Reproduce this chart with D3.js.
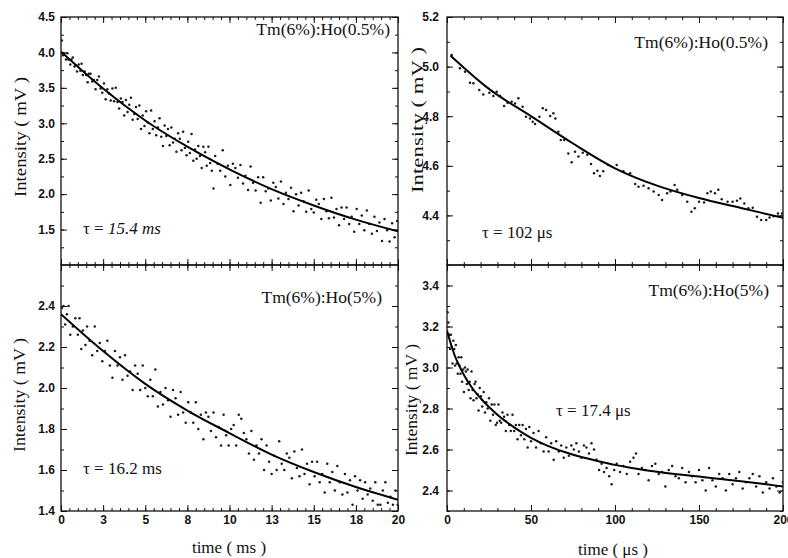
<!DOCTYPE html>
<html>
<head>
<meta charset="utf-8">
<script src="https://cdn.jsdelivr.net/npm/d3@7"></script>
<style>
  body { margin: 0; background: #fff; }
  svg { display: block; }
  .tick text { font-family: "Liberation Sans", Arial, sans-serif; font-weight: bold; font-size: 12px; fill: #111; }
  .domain { display: none; }
  .tick line { stroke: #111; stroke-width: 1; }
  .lbl { font-family: "Liberation Serif", "Times New Roman", serif; fill: #111; }
</style>
</head>
<body>
<div id="chart"></div>
<script>
// time axes
const msTicks = [0, 2.5, 5, 7.5, 10, 12.5, 15, 17.5, 20];
const msTickLabels = ["0", "3", "5", "8", "10", "13", "15", "18", "20"];
const usTicks = [0, 50, 100, 150, 200];
const usTickLabels = ["0", "50", "100", "150", "200"];

// intensity ticks per panel
const tlTicks = [1.5, 2.0, 2.5, 3.0, 3.5, 4.0, 4.5];
const tlTickLabels = ["1.5", "2.0", "2.5", "3.0", "3.5", "4.0", "4.5"];
const trTicks = [4.4, 4.6, 4.8, 5.0, 5.2];
const trTickLabels = ["4.4", "4.6", "4.8", "5.0", "5.2"];
const blTicks = [1.4, 1.6, 1.8, 2.0, 2.2, 2.4];
const blTickLabels = ["1.4", "1.6", "1.8", "2.0", "2.2", "2.4"];
const brTicks = [2.4, 2.6, 2.8, 3.0, 3.2, 3.4];
const brTickLabels = ["2.4", "2.6", "2.8", "3.0", "3.2", "3.4"];

// Tm(6%):Ho(0.5%), time in ms
const tlData = [[0.05,4.17],[0.12,3.96],[0.2,3.98],[0.3,3.90],[0.38,3.99],[0.45,3.90],[0.55,3.83],[0.62,3.90],[0.7,3.93],[0.8,3.80],
  [0.88,3.82],[0.95,3.73],[1.05,3.83],[1.15,3.74],[1.22,3.84],[1.3,3.68],[1.4,3.73],[1.5,3.68],[1.58,3.58],[1.65,3.70],
  [1.75,3.70],[1.85,3.59],[1.95,3.61],[2.05,3.48],[2.15,3.61],[2.25,3.66],[2.35,3.49],[2.45,3.43],[2.55,3.56],[2.65,3.34],
  [2.75,3.48],[2.85,3.42],[2.95,3.32],[3.05,3.49],[3.15,3.31],[3.25,3.50],[3.35,3.30],[3.45,3.21],[3.55,3.35],[3.65,3.30],
  [3.75,3.11],[3.85,3.33],[3.95,3.16],[4.05,3.26],[4.15,3.36],[4.25,3.05],[4.35,3.13],[4.45,3.23],[4.55,3.06],[4.65,3.25],
  [4.75,2.92],[4.85,3.11],[4.95,2.96],[5.05,3.17],[5.15,3.01],[5.25,2.86],[5.35,3.18],[5.45,2.92],[5.55,3.03],[5.65,2.83],
  [5.75,2.94],[5.85,3.07],[5.95,2.81],[6.05,2.68],[6.15,2.97],[6.25,2.82],[6.35,2.92],[6.45,2.69],[6.55,2.94],[6.65,2.73],
  [6.75,2.78],[6.85,2.60],[6.95,2.86],[7.05,2.78],[7.15,2.62],[7.25,2.88],[7.35,2.65],[7.45,2.55],[7.55,2.74],[7.65,2.58],
  [7.75,2.85],[7.85,2.47],[7.95,2.63],[8.05,2.50],[8.15,2.68],[8.25,2.54],[8.35,2.37],[8.45,2.67],[8.55,2.59],[8.65,2.40],
  [8.75,2.67],[8.85,2.44],[8.95,2.33],[9.05,2.08],[9.15,2.54],[9.3,2.43],[9.45,2.33],[9.6,2.62],[9.75,2.25],[9.9,2.40],
  [10.05,2.13],[10.2,2.43],[10.35,2.37],[10.5,2.23],[10.65,2.41],[10.8,2.15],[10.95,2.26],[11.1,2.06],[11.25,2.39],[11.4,2.16],
  [11.55,2.05],[11.7,2.24],[11.85,1.88],[12.0,2.24],[12.15,2.04],[12.3,2.08],[12.45,1.91],[12.6,2.16],[12.75,2.10],[12.9,1.94],
  [13.05,2.18],[13.2,1.86],[13.35,2.02],[13.5,1.93],[13.65,2.09],[13.8,1.76],[13.95,2.00],[14.1,1.84],[14.25,2.02],[14.4,1.90],
  [14.55,1.75],[14.7,2.05],[14.85,1.79],[15.0,1.74],[15.15,1.92],[15.3,1.86],[15.45,1.65],[15.6,1.93],[15.75,1.76],[15.9,1.66],
  [16.05,1.95],[16.2,1.67],[16.35,1.79],[16.5,1.56],[16.65,1.81],[16.8,1.65],[16.95,1.81],[17.1,1.58],[17.25,1.68],[17.4,1.47],
  [17.55,1.79],[17.7,1.58],[17.85,1.70],[18.0,1.49],[18.15,1.77],[18.3,1.58],[18.45,1.44],[18.6,1.68],[18.75,1.48],[18.9,1.60],
  [19.05,1.34],[19.2,1.65],[19.35,1.49],[19.5,1.33],[19.65,1.59],[19.8,1.39],[19.95,1.62]];
const tlFit = [[0,4.01],[2.5,3.49],[5,3.04],[7.5,2.67],[10,2.35],[12.5,2.07],[15,1.84],[17.5,1.64],[20,1.475]];

// Tm(6%):Ho(0.5%), time in us
const trData = [[2.8,5.047],[7.7,4.993],[10.7,4.979],[13.7,4.935],[15.7,4.933],[19.2,4.906],[21.6,4.888],[25.2,4.895],[27.6,4.881],[29.6,4.899],
  [31.6,4.881],[34,4.841],[36,4.854],[38.5,4.858],[40.5,4.851],[42.5,4.872],[45,4.838],[47,4.798],[49.4,4.791],[51,4.778],
  [52.4,4.769],[55,4.798],[57,4.832],[59,4.825],[61.4,4.801],[63.3,4.812],[64.5,4.791],[66.3,4.737],[67.7,4.704],[69.7,4.704],
  [72.2,4.650],[74.2,4.614],[76.2,4.657],[78.2,4.637],[80.8,4.653],[83.5,4.645],[85.7,4.607],[87.5,4.570],[89.5,4.580],[91,4.559],
  [93,4.578],[96,4.603],[101,4.603],[105,4.578],[109,4.570],[112,4.527],[114,4.516],[117,4.520],[120,4.509],[123,4.496],
  [126,4.482],[128,4.462],[131,4.489],[133,4.496],[135.5,4.523],[137,4.503],[140,4.482],[143,4.455],[145.5,4.415],[147.5,4.429],
  [150,4.455],[153,4.452],[155,4.489],[157,4.496],[159.5,4.489],[161.5,4.503],[163.5,4.465],[167,4.455],[170,4.455],[172.6,4.459],
  [174.6,4.468],[177,4.448],[179.4,4.429],[182,4.431],[184.5,4.395],[187,4.381],[190,4.381],[192,4.392],[194.5,4.397],[197,4.408],[199.4,4.408]];
const trFit = [[2,5.045],[25,4.91],[50,4.80],[75,4.69],[100,4.59],[125,4.52],[150,4.47],[175,4.43],[200,4.39]];

// Tm(6%):Ho(5%), time in ms
const blData = [[0.05,2.39],[0.15,2.40],[0.25,2.31],[0.35,2.36],[0.45,2.40],[0.55,2.26],[0.7,2.30],[0.85,2.34],[1.0,2.26],[1.1,2.34],
  [1.2,2.19],[1.3,2.28],[1.45,2.21],[1.55,2.30],[1.7,2.23],[1.85,2.16],[2.0,2.30],[2.15,2.18],[2.3,2.22],[2.45,2.13],
  [2.6,2.18],[2.75,2.23],[2.9,2.11],[3.05,2.05],[3.2,2.18],[3.35,2.11],[3.5,2.15],[3.65,2.04],[3.8,2.16],[3.95,2.06],
  [4.1,2.08],[4.25,1.99],[4.4,2.11],[4.55,2.07],[4.7,1.99],[4.85,2.11],[5.0,2.00],[5.15,1.96],[5.3,2.04],[5.45,1.96],
  [5.6,2.09],[5.75,1.91],[5.9,1.98],[6.05,1.92],[6.2,2.00],[6.35,1.94],[6.5,1.86],[6.65,1.99],[6.8,1.95],[6.95,1.87],
  [7.1,1.98],[7.25,1.88],[7.4,1.83],[7.55,1.93],[7.7,1.88],[7.85,1.83],[8.0,1.93],[8.15,1.80],[8.3,1.87],[8.45,1.75],
  [8.6,1.88],[8.75,1.86],[8.9,1.79],[9.05,1.88],[9.2,1.76],[9.35,1.81],[9.5,1.72],[9.65,1.87],[9.8,1.77],[9.95,1.72],
  [10.1,1.80],[10.25,1.82],[10.4,1.72],[10.55,1.87],[10.7,1.85],[10.85,1.78],[11.0,1.75],[11.15,1.68],[11.3,1.79],[11.45,1.65],
  [11.6,1.72],[11.75,1.68],[11.9,1.75],[12.05,1.60],[12.2,1.72],[12.35,1.64],[12.5,1.58],[12.65,1.67],[12.8,1.60],[12.95,1.74],
  [13.1,1.63],[13.25,1.60],[13.4,1.68],[13.55,1.66],[13.7,1.56],[13.85,1.69],[14.0,1.61],[14.15,1.57],[14.3,1.70],[14.45,1.58],
  [14.6,1.63],[14.75,1.53],[14.9,1.64],[15.05,1.57],[15.2,1.64],[15.35,1.54],[15.5,1.58],[15.65,1.49],[15.8,1.63],[15.95,1.54],
  [16.1,1.59],[16.25,1.50],[16.4,1.62],[16.55,1.54],[16.7,1.48],[16.85,1.58],[17.0,1.49],[17.15,1.55],[17.3,1.43],[17.45,1.57],
  [17.6,1.50],[17.75,1.55],[17.9,1.46],[18.05,1.54],[18.2,1.48],[18.35,1.51],[18.5,1.45],[18.65,1.54],[18.8,1.43],[18.95,1.43],
  [19.1,1.50],[19.25,1.54],[19.4,1.44],[19.55,1.47],[19.7,1.43],[19.85,1.50],[19.98,1.43]];
const blFit = [[0,2.36],[2.5,2.18],[5,2.02],[7.5,1.89],[10,1.78],[12.5,1.675],[15,1.59],[17.5,1.517],[20,1.455]];

// Tm(6%):Ho(5%), time in us
const brData = [[0.3,3.27],[0.8,3.22],[1.3,3.16],[1.8,3.09],[2.3,3.16],[2.8,3.10],[3.3,3.02],[3.8,3.13],[4.3,3.09],[4.8,3.01],
  [5.3,3.11],[5.8,3.02],[6.4,2.97],[6.9,3.05],[7.4,3.01],[8.0,2.97],[8.5,3.05],[9.0,2.93],[9.6,2.99],[10.1,2.88],
  [10.7,3.00],[11.2,2.98],[11.8,2.92],[12.3,2.99],[12.9,2.89],[13.5,2.93],[14.0,2.85],[14.6,2.98],[15.2,2.89],[15.8,2.84],
  [16.4,2.92],[17.0,2.93],[17.6,2.85],[18.2,2.87],[18.8,2.79],[19.5,2.90],[20.2,2.86],[21.0,2.81],[21.8,2.88],[22.6,2.78],
  [23.4,2.83],[24.2,2.80],[25.0,2.85],[25.8,2.74],[26.6,2.82],[27.4,2.77],[28.2,2.82],[29.0,2.72],[29.8,2.73],[30.6,2.82],
  [31.4,2.74],[32.2,2.73],[33.0,2.78],[34.0,2.76],[35.0,2.69],[36.0,2.77],[37.0,2.72],[38.0,2.69],[39.0,2.77],[40.0,2.69],
  [41.0,2.72],[42.0,2.65],[43.0,2.72],[44.0,2.67],[45.0,2.72],[46.0,2.65],[47.0,2.70],[48.0,2.61],[49.0,2.71],[50.0,2.64],
  [51.5,2.68],[53.0,2.61],[54.5,2.69],[56.0,2.63],[57.5,2.59],[59.0,2.66],[60.5,2.59],[62.0,2.63],[63.5,2.55],[65.0,2.64],
  [66.5,2.59],[68.0,2.62],[69.5,2.56],[71.0,2.61],[72.5,2.57],[74.0,2.62],[75.5,2.60],[77.0,2.63],[78.5,2.59],[80.0,2.56],
  [81.5,2.62],[83.0,2.61],[84.5,2.58],[86.0,2.63],[87.5,2.60],[89.0,2.55],[90.5,2.50],[92.0,2.53],[93.5,2.49],[95.0,2.51],
  [96.5,2.47],[98.0,2.43],[99.5,2.50],[101,2.53],[103,2.49],[105,2.52],[107,2.48],[109,2.54],[111,2.56],[112.5,2.58],
  [114,2.48],[116,2.51],[118,2.50],[120,2.45],[122,2.52],[124,2.53],[126,2.48],[128,2.49],[130,2.42],[132,2.50],
  [134,2.52],[136,2.47],[138,2.46],[140,2.51],[142,2.44],[144,2.49],[146,2.47],[148,2.44],[150,2.50],[152,2.45],
  [154,2.40],[156,2.51],[158,2.45],[160,2.42],[162,2.48],[164,2.46],[166,2.40],[168,2.48],[170,2.43],[172,2.46],
  [174,2.49],[176,2.41],[178,2.44],[180,2.46],[182,2.48],[184,2.42],[186,2.47],[188,2.39],[190,2.44],[192,2.41],
  [194,2.46],[196,2.42],[198,2.39],[200,2.44]];
const brFit = [[0,3.18],[2.5,3.11],[5,3.05],[7.5,3.005],[10,2.965],[15,2.90],[20,2.85],[25,2.807],[30,2.77],[35,2.737],
  [40,2.708],[45,2.681],[50,2.657],[60,2.618],[70,2.588],[80,2.563],[90,2.543],[100,2.525],[110,2.51],[125,2.492],
  [140,2.477],[150,2.468],[160,2.459],[175,2.445],[190,2.43],[200,2.42]];

const W = 788, H = 558;
const svg = d3.select("#chart").append("svg").attr("width", W).attr("height", H);

const colL = [61, 398], colR = [447, 783];
const rowT = [17, 265], rowB = [265, 511];

const panels = [
  { id: "tl", xr: colL, yr: rowT, xd: [0, 20], yd: [1.0, 4.5], data: tlData, fit: tlFit,
    xt: msTicks, xl: null, xm: d3.range(0, 20.01, 0.5), yt: tlTicks, yl: tlTickLabels, ym: d3.range(1.25, 4.5, 0.25),
    ypad: 6, title: "Tm(6%):Ho(0.5%)", titlePos: [390, 35], tau: ["15.4 ms", true], tauPos: [83, 234],
    ylab: [26, 137, 120] },
  { id: "tr", xr: colR, yr: rowT, xd: [0, 200], yd: [4.2, 5.2], data: trData, fit: trFit,
    xt: usTicks, xl: null, xm: d3.range(0, 201, 10), yt: trTicks, yl: trTickLabels, ym: d3.range(4.3, 5.2, 0.1),
    ypad: 8, title: "Tm(6%):Ho(0.5%)", titlePos: [768, 48], tau: ["102 \u03bcs", false], tauPos: [482, 238],
    ylab: [423, 120, 146] },
  { id: "bl", xr: colL, yr: rowB, xd: [0, 20], yd: [1.4, 2.6], data: blData, fit: blFit,
    xt: msTicks, xl: msTickLabels, xm: d3.range(0, 20.01, 0.5), yt: blTicks, yl: blTickLabels, ym: d3.range(1.5, 2.6, 0.1),
    ypad: 6, title: "Tm(6%):Ho(5%)", titlePos: [382, 303], tau: ["16.2 ms", false], tauPos: [83, 474],
    ylab: [25, 395, 114] },
  { id: "br", xr: colR, yr: rowB, xd: [0, 200], yd: [2.3, 3.5], data: brData, fit: brFit,
    xt: usTicks, xl: usTickLabels, xm: d3.range(0, 201, 10), yt: brTicks, yl: brTickLabels, ym: d3.range(2.3, 3.5, 0.1),
    ypad: 8, title: "Tm(6%):Ho(5%)", titlePos: [769, 296], tau: ["17.4 \u03bcs", false], tauPos: [556, 416],
    ylab: [417, 400, 112] }
];

panels.forEach(p => {
  const x = d3.scaleLinear().domain(p.xd).range(p.xr);
  const y = d3.scaleLinear().domain(p.yd).range([p.yr[1], p.yr[0]]);
  const g = svg.append("g");

  g.append("clipPath").attr("id", "clip-" + p.id)
    .append("rect").attr("x", p.xr[0]).attr("y", p.yr[0])
    .attr("width", p.xr[1] - p.xr[0]).attr("height", p.yr[1] - p.yr[0]);

  // minor ticks first
  g.append("g").attr("transform", `translate(0,${p.yr[1]})`)
    .call(d3.axisBottom(x).tickValues(p.xm).tickSize(-3).tickFormat(""));
  g.append("g").attr("transform", `translate(0,${p.yr[0]})`)
    .call(d3.axisTop(x).tickValues(p.xm).tickSize(-3).tickFormat(""));
  g.append("g").attr("transform", `translate(${p.xr[0]},0)`)
    .call(d3.axisLeft(y).tickValues(p.ym).tickSize(-3).tickFormat(""));
  g.append("g").attr("transform", `translate(${p.xr[1]},0)`)
    .call(d3.axisRight(y).tickValues(p.ym).tickSize(-3).tickFormat(""));

  // major ticks
  g.append("g").attr("transform", `translate(0,${p.yr[1]})`)
    .call(d3.axisBottom(x).tickValues(p.xt).tickSize(-6).tickPadding(4)
      .tickFormat((d, i) => p.xl ? p.xl[i] : ""));
  g.append("g").attr("transform", `translate(0,${p.yr[0]})`)
    .call(d3.axisTop(x).tickValues(p.xt).tickSize(-6).tickFormat(""));
  g.append("g").attr("transform", `translate(${p.xr[0]},0)`)
    .call(d3.axisLeft(y).tickValues(p.yt).tickSize(-6).tickPadding(p.ypad)
      .tickFormat((d, i) => p.yl[i]));
  g.append("g").attr("transform", `translate(${p.xr[1]},0)`)
    .call(d3.axisRight(y).tickValues(p.yt).tickSize(-6).tickFormat(""));

  // frame
  g.append("rect").attr("x", p.xr[0]).attr("y", p.yr[0])
    .attr("width", p.xr[1] - p.xr[0]).attr("height", p.yr[1] - p.yr[0])
    .attr("fill", "none").attr("stroke", "#111").attr("stroke-width", 1.3);

  const plot = g.append("g").attr("clip-path", `url(#clip-${p.id})`);
  plot.selectAll("circle").data(p.data).enter().append("circle")
    .attr("cx", d => x(d[0])).attr("cy", d => y(d[1]))
    .attr("r", 1.25).attr("fill", "#1a1a1a");

  const line = d3.line().x(d => x(d[0])).y(d => y(d[1])).curve(d3.curveMonotoneX);
  plot.append("path").datum(p.fit).attr("d", line)
    .attr("fill", "none").attr("stroke", "#000").attr("stroke-width", 2);

  g.append("text").attr("class", "lbl").attr("x", p.titlePos[0]).attr("y", p.titlePos[1])
    .attr("text-anchor", "end").style("font-size", "17.5px").text(p.title);

  const tau = g.append("text").attr("class", "lbl").attr("x", p.tauPos[0]).attr("y", p.tauPos[1])
    .style("font-size", "17px");
  tau.append("tspan").text("\u03c4 = ");
  tau.append("tspan").style("font-style", p.tau[1] ? "italic" : "normal").text(p.tau[0]);

  g.append("text").attr("class", "lbl")
    .attr("transform", `translate(${p.ylab[0]},${p.ylab[1]}) rotate(-90)`)
    .attr("text-anchor", "middle").style("font-size", "17px")
    .attr("textLength", p.ylab[2]).attr("lengthAdjust", "spacingAndGlyphs")
    .text("Intensity ( mV )");
});

svg.append("text").attr("class", "lbl").attr("x", 229).attr("y", 553)
  .attr("text-anchor", "middle").style("font-size", "17px").text("time ( ms )");
svg.append("text").attr("class", "lbl").attr("x", 613).attr("y", 555)
  .attr("text-anchor", "middle").style("font-size", "17px").text("time ( \u03bcs )");
</script>
</body>
</html>
